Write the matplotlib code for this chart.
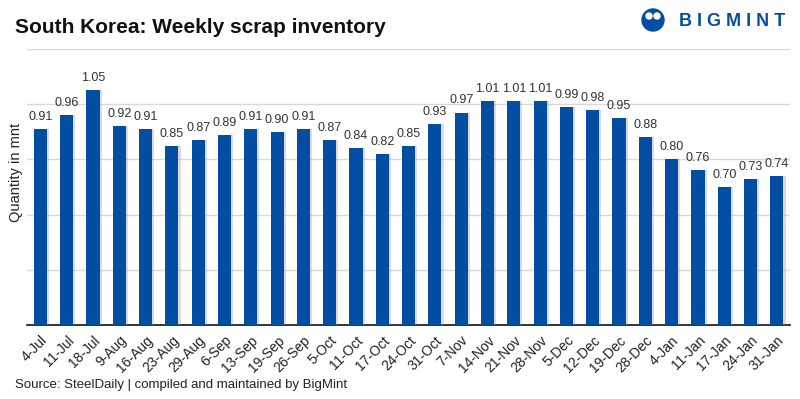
import matplotlib
matplotlib.use("Agg")
import matplotlib.pyplot as plt
import matplotlib.patheffects as pe
from matplotlib.patches import Circle
import numpy as np

plt.rcParams['font.family'] = ['Liberation Sans', 'DejaVu Sans']

weeks = ["4-Jul", "11-Jul", "18-Jul", "9-Aug", "16-Aug", "23-Aug", "29-Aug",
         "6-Sep", "13-Sep", "19-Sep", "26-Sep", "5-Oct", "11-Oct", "17-Oct",
         "24-Oct", "31-Oct", "7-Nov", "14-Nov", "21-Nov", "28-Nov", "5-Dec",
         "12-Dec", "19-Dec", "28-Dec", "4-Jan", "11-Jan", "17-Jan", "24-Jan",
         "31-Jan"]
inventory = [0.91, 0.96, 1.05, 0.92, 0.91, 0.85, 0.87, 0.89, 0.91, 0.90,
             0.91, 0.87, 0.84, 0.82, 0.85, 0.93, 0.97, 1.01, 1.01, 1.01,
             0.99, 0.98, 0.95, 0.88, 0.80, 0.76, 0.70, 0.73, 0.74]

BLUE = '#034ea2'

fig = plt.figure(figsize=(8, 3.99), dpi=100)
ax = fig.add_axes([0.034, 0.1855, 0.9535, 0.6915])

x = np.arange(len(weeks))
bars = ax.bar(x, inventory, width=0.5, color=BLUE, zorder=3)
for b in bars:
    b.set_path_effects([pe.SimplePatchShadow(offset=(1.5, 0), shadow_rgbFace='#999999', alpha=0.35),
                        pe.Normal()])

for xi, v in zip(x, inventory):
    ax.text(xi, v + 0.022, f"{v:.2f}", ha='center', va='bottom',
            fontsize=9, color='#333333', zorder=4)

ax.set_xlim(-0.5, len(weeks) - 0.5)
ax.set_ylim(0.2, 1.2)
ax.set_yticks([0.4, 0.6, 0.8, 1.0, 1.2])
ax.yaxis.grid(True, color='#d9d9d9', linewidth=1, zorder=0)
ax.tick_params(axis='y', length=0, labelleft=False)
ax.set_xticks(x)
ax.set_xticklabels(weeks, rotation=45, ha='right', va='top',
                   rotation_mode='anchor', fontsize=10, color='#222222')
ax.tick_params(axis='x', length=0, pad=6)
for s in ['top', 'right', 'left']:
    ax.spines[s].set_visible(False)
ax.spines['bottom'].set_color('#111111')
ax.spines['bottom'].set_linewidth(1.2)

fig.text(0.011, 0.569, "Quantity in mnt", rotation=90, ha='left', va='center',
         fontsize=10.5, color='#222222')
fig.text(0.019, 0.93, "South Korea: Weekly scrap inventory", ha='left',
         va='center', fontsize=15, fontweight='bold', color='#111111')
fig.text(0.019, 0.035, "Source: SteelDaily | compiled and maintained by BigMint",
         ha='left', va='center', fontsize=9.5, color='#222222')

# logo
logo = fig.add_axes([0.0, 0.0, 1.0, 1.0], facecolor='none')
logo.set_xlim(0, 800)
logo.set_ylim(399, 0)
logo.axis('off')
logo.add_patch(Circle((653, 20), 11, color=BLUE))
logo.add_patch(Circle((649, 16), 3, color='white'))
logo.add_patch(Circle((657, 16), 3, color='white'))
logo.text(679, 21, "B I G M I N T", ha='left', va='center', fontsize=13,
          fontweight='heavy', color=BLUE)

fig.savefig("out.png", dpi=100)
